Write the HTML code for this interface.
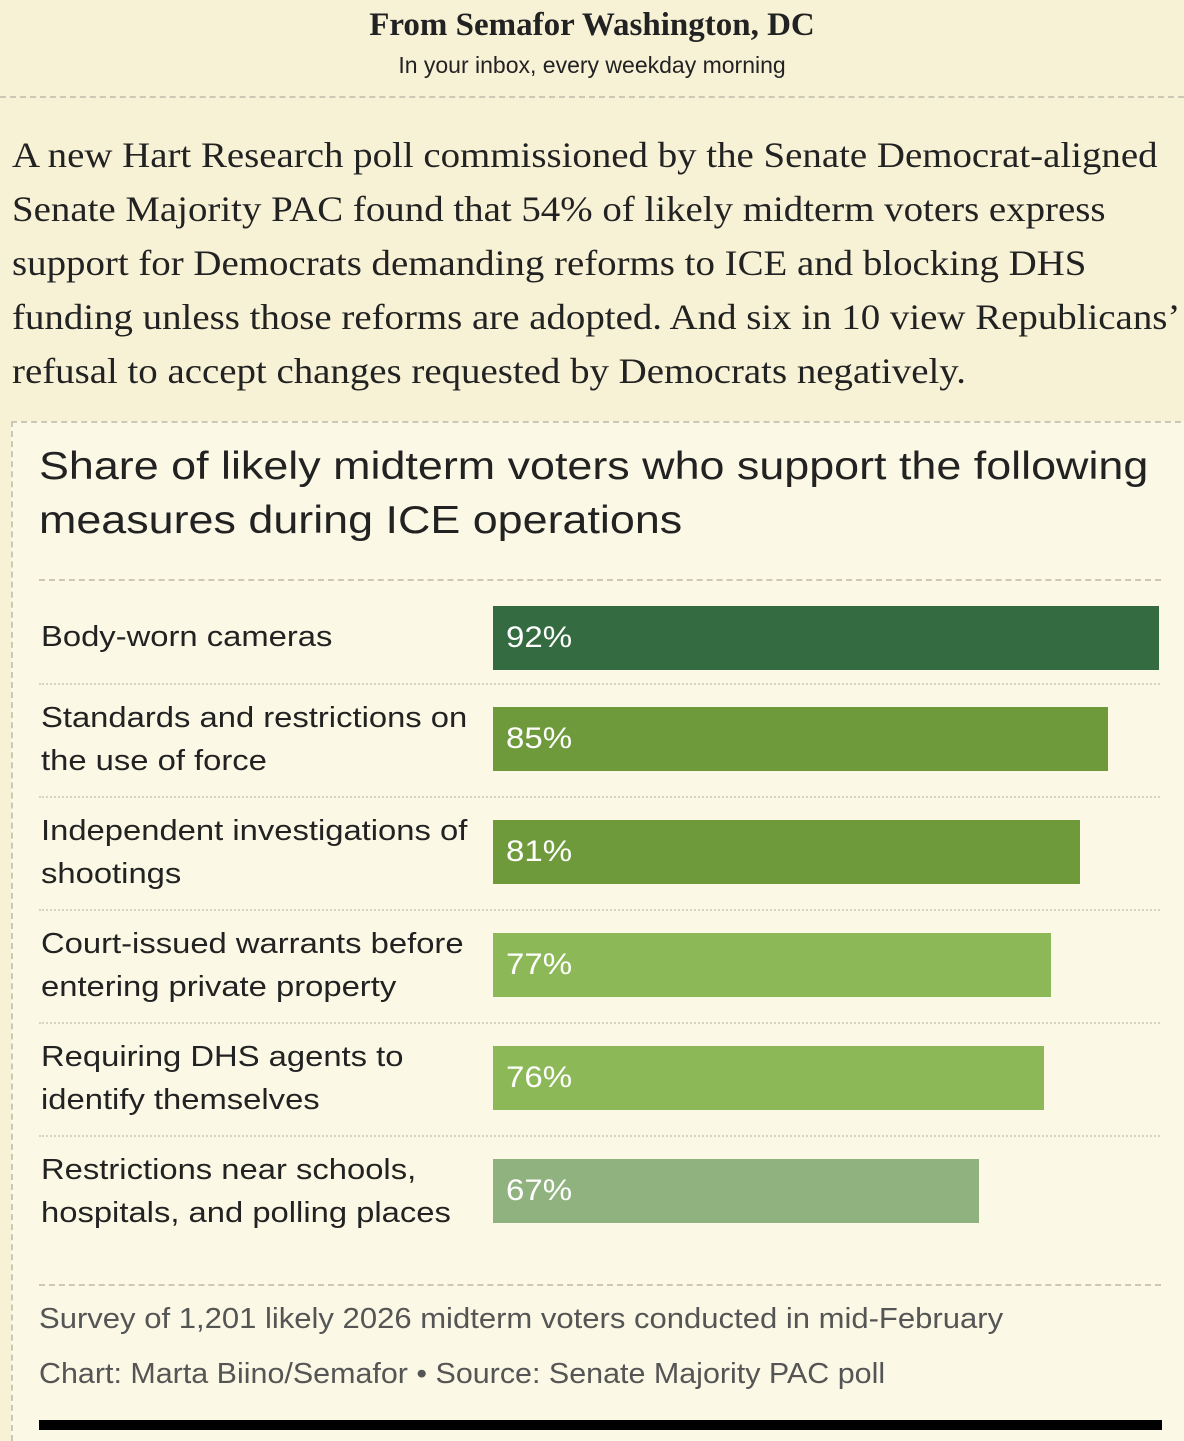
<!DOCTYPE html>
<html><head><meta charset="utf-8"><style>
*{margin:0;padding:0;box-sizing:border-box}
body{width:1184px;height:1428px;background:#f7f2d6;position:relative;overflow:hidden;font-family:"Liberation Sans",sans-serif}
.a{position:absolute;white-space:nowrap}
.serif{font-family:"Liberation Serif",serif}
.lab{font-size:29px;color:#222;line-height:43px;left:41px;transform:scaleX(1.13);transform-origin:left top}
.bar{position:absolute;left:493px;height:64px;color:#fff;font-size:30px;line-height:64px;padding-left:13px}
.bar span{display:inline-block;transform:scaleX(1.1);transform-origin:left}
.dot{position:absolute;left:39px;width:1121px;border-top:2px dotted #d6d3c4}
</style></head><body>
<div class="a serif" style="left:0;width:1184px;text-align:center;top:7px;font-size:33px;font-weight:bold;color:#222">From Semafor Washington, DC</div>
<div class="a" style="left:0;width:1184px;text-align:center;top:52px;font-size:23px;color:#222">In your inbox, every weekday morning</div>
<div class="a" style="left:0;top:96px;width:1184px;border-top:2px dashed #ccc8b4"></div>
<div class="a serif" style="left:12px;top:128px;font-size:36px;line-height:54px;color:#222;transform:scaleX(1.08);transform-origin:left top">A new Hart Research poll commissioned by the Senate Democrat-aligned<br>Senate Majority PAC found that 54% of likely midterm voters express<br>support for Democrats demanding reforms to ICE and blocking DHS<br>funding unless those reforms are adopted. And six in 10 view Republicans’<br>refusal to accept changes requested by Democrats negatively.</div>
<div class="a" style="left:11px;top:421px;width:1180px;height:1020px;background:#fbf9e5;border-left:2px dashed #ccc8b4;border-top:2px dashed #ccc8b4"></div>
<div class="a" style="left:39px;top:440px;font-size:39px;line-height:54px;color:#222;transform:scaleX(1.15);transform-origin:left top">Share of likely midterm voters who support the following<br>measures during ICE operations</div>
<div class="a" style="left:39px;top:579px;width:1122px;border-top:2px dashed #ccc8b4"></div>
<div class="a lab" style="top:616px">Body-worn cameras</div>
<div class="bar" style="top:606px;width:666px;background:#356b40"><span>92%</span></div>
<div class="dot" style="top:683px"></div>
<div class="a lab" style="top:697px">Standards and restrictions on<br>the use of force</div>
<div class="bar" style="top:707px;width:615px;background:#6e9a3c"><span>85%</span></div>
<div class="dot" style="top:796px"></div>
<div class="a lab" style="top:810px">Independent investigations of<br>shootings</div>
<div class="bar" style="top:820px;width:587px;background:#6e9a3c"><span>81%</span></div>
<div class="dot" style="top:909px"></div>
<div class="a lab" style="top:923px">Court-issued warrants before<br>entering private property</div>
<div class="bar" style="top:933px;width:558px;background:#8db858"><span>77%</span></div>
<div class="dot" style="top:1022px"></div>
<div class="a lab" style="top:1036px">Requiring DHS agents to<br>identify themselves</div>
<div class="bar" style="top:1046px;width:551px;background:#8db858"><span>76%</span></div>
<div class="dot" style="top:1135px"></div>
<div class="a lab" style="top:1149px">Restrictions near schools,<br>hospitals, and polling places</div>
<div class="bar" style="top:1159px;width:486px;background:#8fb27f"><span>67%</span></div>
<div class="a" style="left:39px;top:1284px;width:1122px;border-top:2px dashed #ccc8b4"></div>
<div class="a" style="left:39px;top:1303px;font-size:29px;color:#555;transform:scaleX(1.07);transform-origin:left top">Survey of 1,201 likely 2026 midterm voters conducted in mid-February</div>
<div class="a" style="left:39px;top:1358px;font-size:29px;color:#555;transform:scaleX(1.05);transform-origin:left top">Chart: Marta Biino/Semafor • Source: Senate Majority PAC poll</div>
<div class="a" style="left:39px;top:1420px;width:1123px;height:10px;background:#000"></div>
</body></html>
